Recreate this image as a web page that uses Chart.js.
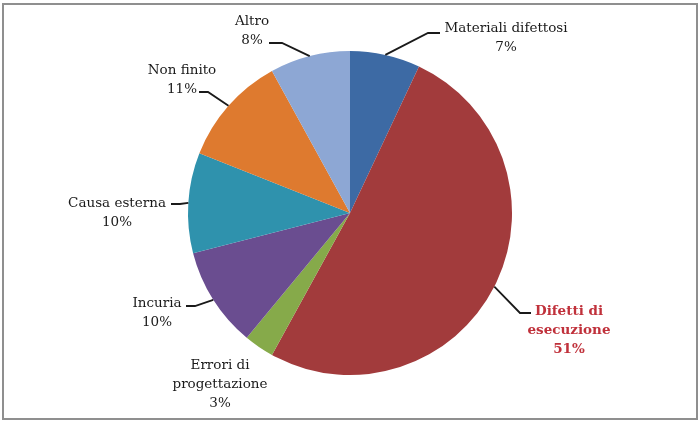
<!DOCTYPE html>
<html>
<head>
<meta charset="utf-8">
<script src="https://cdn.jsdelivr.net/npm/chart.js@4.4.1/dist/chart.umd.min.js"></script>
<style>
  html, body { margin: 0; padding: 0; background: #fff; }
  #frame { position: absolute; left: 2px; top: 3px; width: 692px; height: 413px; border: 2px solid #8f8f8f; }
  #wrap { position: absolute; left: 0; top: 0; width: 700px; height: 423px; }
</style>
</head>
<body>
<div id="frame"></div>
<div id="wrap"><canvas id="pieChart" width="700" height="423"></canvas></div>
<script>
// data
const categories = ["Materiali difettosi", "Difetti di esecuzione", "Errori di progettazione", "Incuria", "Causa esterna", "Non finito", "Altro"];
const shares = [7, 51, 3, 10, 10, 11, 8];
const sliceColors = ["#3d6aa4", "#a23b3c", "#86aa4a", "#6a4d90", "#2f92ad", "#de7a2f", "#8da7d4"];

// label text lines and where to put them (center x, first line y), plus leader elbow / end
const labelLines = [
    ["Materiali difettosi", "7%"],
    ["Difetti di", "esecuzione", "51%"],
    ["Errori di", "progettazione", "3%"],
    ["Incuria", "10%"],
    ["Causa esterna", "10%"],
    ["Non finito", "11%"],
    ["Altro", "8%"],
];
const labelLayout = [
    { x: 506, y: 28, elbow: [428, 33], end: [440, 33] },
    { x: 569, y: 311, bold: true, color: "#c0313b", elbow: [520, 313], end: [531, 313] },
    { x: 220, y: 365 },
    { x: 157, y: 303, elbow: [195, 306], end: [186, 306] },
    { x: 117, y: 203, elbow: [180, 204], end: [171, 204] },
    { x: 182, y: 70, elbow: [208, 92], end: [199, 92] },
    { x: 252, y: 21, elbow: [282, 43], end: [269, 43] },
];

const pieLabels = {
    id: "pieLabels",
    afterDatasetsDraw(chart) {
        const c = chart.ctx;
        const meta = chart.getDatasetMeta(0);
        meta.data.forEach((arc, i) => {
            const p = arc.getProps(["x", "y", "startAngle", "endAngle", "outerRadius"], true);
            const mid = (p.startAngle + p.endAngle) / 2;
            const ex = p.x + Math.cos(mid) * p.outerRadius;
            const ey = p.y + Math.sin(mid) * p.outerRadius;
            const lay = labelLayout[i];
            c.save();
            if (lay.elbow) {
                c.strokeStyle = "#1a1a1a";
                c.lineWidth = 1.8;
                c.beginPath();
                c.moveTo(ex, ey);
                c.lineTo(lay.elbow[0], lay.elbow[1]);
                c.lineTo(lay.end[0], lay.end[1]);
                c.stroke();
            }
            c.font = (lay.bold ? "bold " : "") + "13.5px 'DejaVu Serif'";
            c.fillStyle = lay.color || "#1a1a1a";
            c.textAlign = "center";
            c.textBaseline = "middle";
            labelLines[i].forEach((t, k) => c.fillText(t, lay.x, lay.y + k * 19));
            c.restore();
        });
    }
};

new Chart(document.getElementById("pieChart"), {
    type: "pie",
    data: {
        labels: categories,
        datasets: [{
            data: shares,
            backgroundColor: sliceColors,
            borderWidth: 0,
        }],
    },
    options: {
        responsive: false,
        animation: false,
        layout: { padding: { top: 51, bottom: 48, left: 0, right: 0 } },
        plugins: { legend: { display: false }, tooltip: { enabled: false } },
    },
    plugins: [pieLabels],
});
</script>
</body>
</html>
